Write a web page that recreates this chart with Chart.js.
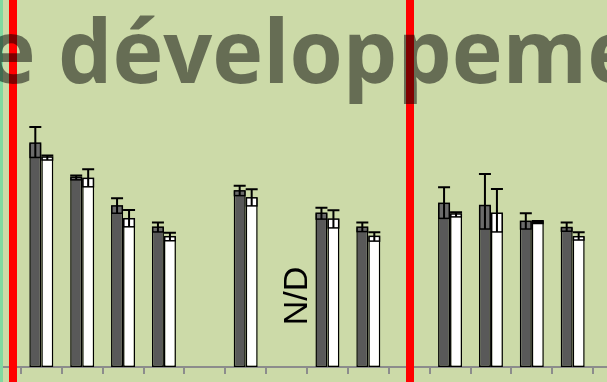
<!DOCTYPE html>
<html>
<head>
<meta charset="utf-8">
<script src="https://cdn.jsdelivr.net/npm/chart.js@4/dist/chart.umd.min.js"></script>
<style>
  html, body { margin: 0; padding: 0; overflow: hidden; background: #ccdaa8; }
  #wrap { position: absolute; left: -20px; top: 0; width: 654px; height: 382px; }
</style>
</head>
<body>
<div id="wrap"><canvas id="chart" width="654" height="382"></canvas></div>
<script>
// groups along the axis; null = empty slot, 0 = not determined (N/D)
const categories = ['', 'G1', 'G2', 'G3', 'G4', '', 'G5', 'G6', 'G7', 'G8', '', 'G9', 'G10', 'G11', 'G12', ''];

const darkValues  = [null, 61.0, 51.7, 43.9, 38.1, null, 48.0, 0, 41.9, 38.1, null, 44.6, 44.0, 39.7, 38.0, null];
const darkErrUp   = [null, 4.4, 0.5, 2.1, 1.3, null, 1.4, 0, 1.5, 1.3, null, 4.4, 8.6, 2.2, 1.4, null];
const darkErrDown = [null, 3.9, 0.7, 2.0, 1.3, null, 1.3, 0, 1.6, 1.2, null, 4.1, 6.4, 2.1, 1.0, null];

const whiteValues  = [null, 57.2, 51.4, 40.4, 35.5, null, 46.1, 0, 40.3, 35.6, null, 41.7, 41.9, 39.5, 35.5, null];
const whiteErrUp   = [null, 0.4, 2.5, 2.4, 1.1, null, 2.3, 0, 2.4, 1.1, null, 0.5, 6.6, 0.3, 1.2, null];
const whiteErrDown = [null, 0.8, 2.3, 2.2, 1.1, null, 2.2, 0, 2.4, 1.3, null, 0.8, 5.1, 0.4, 0.9, null];

const ndIndex = 7;
const titleText = ['Stade de ', 'développement'];

const errorBars = {
  id: 'errorBars',
  afterDatasetsDraw(chart) {
    const ctx = chart.ctx;
    const y = chart.scales.y;
    chart.data.datasets.forEach((ds, di) => {
      const meta = chart.getDatasetMeta(di);
      meta.data.forEach((bar, i) => {
        const v = ds.data[i];
        if (v === null || v === 0) return;
        const top = y.getPixelForValue(v + ds.errUp[i]);
        const mid = y.getPixelForValue(v);
        const low = y.getPixelForValue(v - ds.errDown[i]);
        const half = bar.width / 2;
        ctx.save();
        // lower half of the error range, shaded inside the bar
        ctx.fillStyle = ds.bandColor;
        ctx.fillRect(bar.x - half + 1, mid, bar.width - 2, low - mid);
        ctx.strokeStyle = '#000';
        ctx.lineWidth = 1.5;
        ctx.strokeRect(bar.x - half + 0.75, mid, bar.width - 1.5, low - mid);
        ctx.lineWidth = 2;
        ctx.beginPath();
        ctx.moveTo(bar.x, low);
        ctx.lineTo(bar.x, top);
        ctx.moveTo(bar.x - half, top);
        ctx.lineTo(bar.x + half, top);
        ctx.stroke();
        ctx.restore();
      });
    });
  }
};

const overlay = {
  id: 'overlay',
  afterDraw(chart) {
    const ctx = chart.ctx;
    const off = 20; // canvas sits 20px left of the page
    ctx.save();
    ctx.fillStyle = '#80d8a0';
    ctx.fillRect(off + 0, 0, 3, 382);
    ctx.fillStyle = '#ff0000';
    ctx.fillRect(off + 9, 0, 8, 382);
    ctx.fillRect(off + 406, 0, 8, 382);

    // heading, stretched to its slot width
    ctx.font = "bold 88px 'Open Sans'";
    const w = ctx.measureText('développeme').width;
    const sx = 580 / w;
    ctx.translate(off + 58, 83);
    ctx.scale(sx, 1);
    ctx.fillStyle = 'rgba(0,0,0,0.5)';
    ctx.textBaseline = 'alphabetic';
    ctx.textAlign = 'right';
    ctx.fillText(titleText[0], 0, 0);
    ctx.textAlign = 'left';
    ctx.fillText(titleText[1], 0, 0);
    ctx.restore();

    // N/D marker
    const x = chart.scales.x.getPixelForValue(ndIndex) + 11;
    ctx.save();
    ctx.translate(x, 296);
    ctx.rotate(-Math.PI / 2);
    ctx.font = "34px 'Liberation Sans'";
    ctx.fillStyle = '#000';
    ctx.textAlign = 'center';
    ctx.textBaseline = 'middle';
    ctx.fillText('N/D', 0, 0);
    ctx.restore();
  }
};

const draw = function() {
  new Chart(document.getElementById('chart'), {
    type: 'bar',
    data: {
      labels: categories,
      datasets: [
        {
          data: darkValues, errUp: darkErrUp, errDown: darkErrDown,
          backgroundColor: '#595959', bandColor: '#6b6b6b',
          borderColor: '#000', borderWidth: 1.5, borderSkipped: false
        },
        {
          data: whiteValues, errUp: whiteErrUp, errDown: whiteErrDown,
          backgroundColor: '#ffffff', bandColor: '#ffffff',
          borderColor: '#000', borderWidth: 1.5, borderSkipped: false
        }
      ]
    },
    options: {
      responsive: false,
      animation: false,
      devicePixelRatio: 1,
      categoryPercentage: 0.587,
      barPercentage: 1,
      layout: { padding: 0 },
      plugins: { legend: { display: false }, tooltip: { enabled: false } },
      scales: {
        x: {
          grid: { drawOnChartArea: false, drawTicks: true, tickLength: 7, color: '#8c8c8c', lineWidth: 2 },
          border: { display: true, color: '#8c8c8c', width: 2 },
          ticks: { display: false },
          afterFit(scale) { scale.height = 15; }
        },
        y: { display: false, min: 0, max: 100 }
      }
    },
    plugins: [errorBars, overlay]
  });
};

Promise.all([
  document.fonts.load("bold 88px 'Open Sans'"),
  document.fonts.load("34px 'Liberation Sans'")
]).then(draw, draw);
</script>
</body>
</html>
